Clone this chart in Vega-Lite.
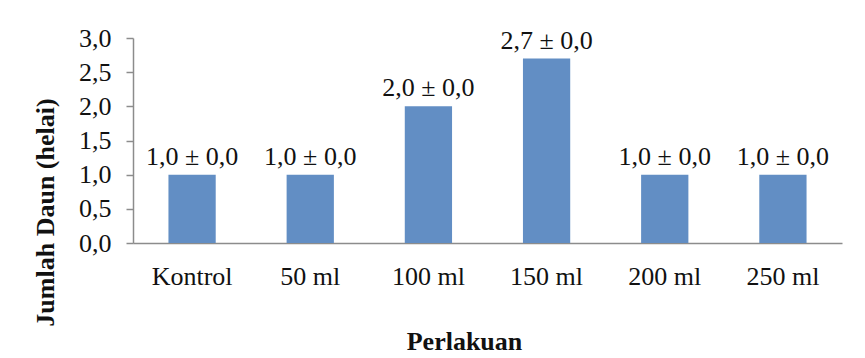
{
  "$schema": "https://vega.github.io/schema/vega-lite/v6.json",
  "autosize": "none",
  "width": 709,
  "height": 205,
  "padding": {"left": 133, "top": 38, "right": 23, "bottom": 115},
  "background": "white",
  "config": {
    "view": {"stroke": null},
    "locale": {"number": {"decimal": ",", "thousands": ".", "grouping": [3], "currency": ["", ""]}},
    "font": "Liberation Serif"
  },
  "data": {
    "values": [
      {"perlakuan": "Kontrol", "daun": 1.0, "label": "1,0 ± 0,0"},
      {"perlakuan": "50 ml", "daun": 1.0, "label": "1,0 ± 0,0"},
      {"perlakuan": "100 ml", "daun": 2.0, "label": "2,0 ± 0,0"},
      {"perlakuan": "150 ml", "daun": 2.7, "label": "2,7 ± 0,0"},
      {"perlakuan": "200 ml", "daun": 1.0, "label": "1,0 ± 0,0"},
      {"perlakuan": "250 ml", "daun": 1.0, "label": "1,0 ± 0,0"}
    ]
  },
  "encoding": {
    "x": {
      "field": "perlakuan",
      "type": "nominal",
      "sort": null,
      "scale": {"paddingInner": 0.6, "paddingOuter": 0.3},
      "axis": {
        "title": "Perlakuan",
        "labelAngle": 0,
        "labelFont": "Liberation Serif",
        "labelFontSize": 26,
        "labelColor": "#111111",
        "labelBaseline": "alphabetic",
        "labelPadding": 41,
        "ticks": false,
        "domainColor": "#8c8c8c",
        "domainWidth": 1.5,
        "titleFont": "Liberation Serif",
        "titleFontSize": 26,
        "titleFontWeight": "bold",
        "titleColor": "#111111",
        "titleX": 331,
        "titleY": 106,
        "titleAlign": "center",
        "titleBaseline": "alphabetic"
      }
    },
    "y": {
      "field": "daun",
      "type": "quantitative",
      "scale": {"domain": [0, 3]},
      "axis": {
        "title": "Jumlah Daun (helai)",
        "values": [0, 0.5, 1, 1.5, 2, 2.5, 3],
        "format": ".1f",
        "grid": false,
        "labelFont": "Liberation Serif",
        "labelFontSize": 26,
        "labelColor": "#111111",
        "labelPadding": 15,
        "tickSize": 7,
        "tickColor": "#8c8c8c",
        "tickWidth": 1.5,
        "domainColor": "#8c8c8c",
        "domainWidth": 1.5,
        "titleFont": "Liberation Serif",
        "titleFontSize": 26,
        "titleFontWeight": "bold",
        "titleColor": "#111111",
        "titleAngle": 270,
        "titleX": -80,
        "titleY": 174,
        "titleAlign": "center",
        "titleBaseline": "alphabetic"
      }
    }
  },
  "layer": [
    {"mark": {"type": "bar", "color": "#628EC4"}},
    {
      "mark": {"type": "text", "baseline": "alphabetic", "dy": -10, "font": "Liberation Serif", "fontSize": 26, "color": "#111111"},
      "encoding": {"text": {"field": "label"}}
    }
  ]
}
